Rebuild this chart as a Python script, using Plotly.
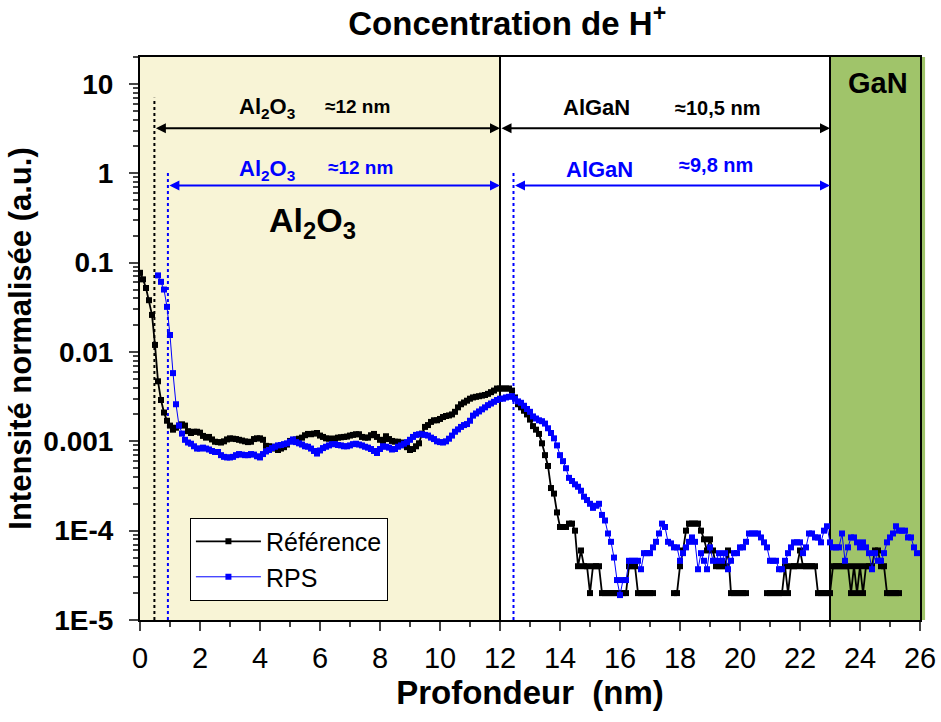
import plotly.graph_objects as go
import math

# ---------------- data ----------------
ref_start = 0.0
rps_start = 0.6
step = 0.1

reference = [
    0.077, 0.065, 0.052, 0.038, 0.026, 0.012, 0.0047, 0.0029, 0.0021, 0.0017,
    0.0015, 0.00135, 0.00142, 0.0015, 0.00155, 0.0015, 0.0013, 0.00124, 0.00128, 0.00128,
    0.00125, 0.00115, 0.0011, 0.00112, 0.00105, 0.00099, 0.00098, 0.00097, 0.001, 0.00105,
    0.00108, 0.00107, 0.00106, 0.00104, 0.00102, 0.001, 0.00098, 0.00099, 0.00106, 0.00108,
    0.00108, 0.00104, 0.00089, 0.00088, 0.00087, 0.00083, 0.0008, 0.00083, 0.00086, 0.00092,
    0.00101, 0.00103, 0.00105, 0.00107, 0.0011, 0.00117, 0.00121, 0.0012, 0.00122, 0.00124,
    0.00116, 0.00112, 0.00108, 0.00107, 0.00107, 0.00107, 0.0011, 0.00111, 0.00112, 0.00113,
    0.00116, 0.00118, 0.0012, 0.0012, 0.00112, 0.0011, 0.0011, 0.00117, 0.00121, 0.00112,
    0.00104, 0.00101, 0.00114, 0.00106, 0.00101, 0.00099, 0.00099, 0.00097, 0.00092, 0.00086,
    0.0008, 0.00082, 0.00088, 0.00095, 0.00122, 0.00145, 0.00152, 0.00165, 0.00172, 0.00172,
    0.00178, 0.00187, 0.00192, 0.00195, 0.002, 0.00214, 0.0024, 0.0026, 0.00272, 0.00285,
    0.003, 0.0031, 0.00315, 0.0032, 0.00325, 0.0033, 0.0034, 0.00355, 0.0037, 0.0039,
    0.0039, 0.0039, 0.0039, 0.0039, 0.0037, 0.0031, 0.0026, 0.0024, 0.0022, 0.002,
    0.00175, 0.00148, 0.00135, 0.00121, 0.00095, 0.0007, 0.00053, 0.0003, 0.00026, 0.00016,
    0.00011, 0.00011, 0.00011, 0.00012, 0.00012, 0.0001, 4e-05, 6e-05, 4e-05, 4e-05,
    2e-05, 4e-05, 4e-05, 4e-05, 2e-05, 2e-05, 2e-05, 2e-05, 2e-05, 2e-05,
    2e-05, 2e-05, 2e-05, 4e-05, 4e-05, 4e-05, 2e-05, 2e-05, 2e-05, 2e-05,
    2e-05, 2e-05, None, None, None, None, None, None, 2e-05, 2e-05,
    4e-05, 6e-05, 0.0001, 0.00012, 0.00012, 0.00012, 0.00012, 0.0001, 8e-05, 6e-05,
    8e-05, 6e-05, 4e-05, 4e-05, 4e-05, 4e-05, 6e-05, 2e-05, 2e-05, 2e-05,
    2e-05, 2e-05, 2e-05, None, None, None, None, None, None, 2e-05,
    2e-05, 2e-05, 2e-05, 2e-05, 2e-05, 4e-05, 2e-05, 4e-05, 4e-05, 4e-05,
    6e-05, 4e-05, 4e-05, 4e-05, 4e-05, 4e-05, 2e-05, 2e-05, 2e-05, 2e-05,
    2e-05, 4e-05, 4e-05, 4e-05, 4e-05, 4e-05, 4e-05, 2e-05, 4e-05, 2e-05,
    4e-05, 2e-05, 4e-05, 4e-05, 4e-05, 6e-05, 6e-05, 4e-05, 4e-05, 2e-05,
    2e-05, 2e-05, 2e-05, 2e-05,
]

rps = [
    0.072, 0.061, 0.05, 0.032, 0.0155, 0.0058, 0.0026, 0.0015, 0.00122, 0.00104,
    0.00097, 0.00094, 0.00088, 0.00083, 0.00083, 0.00085, 0.00083, 0.00081, 0.00078, 0.00076,
    0.00076, 0.0007, 0.00067, 0.00066, 0.00066, 0.00067, 0.0007, 0.00072, 0.00071, 0.0007,
    0.0007, 0.00072, 0.00071, 0.00068, 0.00066, 0.00072, 0.00077, 0.0008, 0.00084, 0.00087,
    0.0009, 0.00091, 0.00093, 0.00095, 0.00099, 0.00105, 0.00098, 0.00095, 0.00092, 0.00088,
    0.00087, 0.00083, 0.00078, 0.00073, 0.00079, 0.00084, 0.00087, 0.0009, 0.00093, 0.00093,
    0.00091, 0.0009, 0.00088, 0.00088, 0.0009, 0.00093, 0.00094, 0.00092, 0.0009, 0.00087,
    0.00085, 0.00082, 0.00078, 0.00074, 0.00082, 0.00088, 0.00087, 0.00085, 0.00081, 0.00082,
    0.00087, 0.0009, 0.00094, 0.00098, 0.00104, 0.00112, 0.00118, 0.0012, 0.0012, 0.00118,
    0.00116, 0.0011, 0.00106, 0.001, 0.00098, 0.00097, 0.001, 0.00107, 0.00116, 0.00128,
    0.00136, 0.00145, 0.00152, 0.00156, 0.0017, 0.00194, 0.00205, 0.00216, 0.00228, 0.0024,
    0.00254, 0.00265, 0.00277, 0.0029, 0.003, 0.003, 0.0031, 0.00315, 0.0032, 0.003,
    0.0028, 0.0027, 0.0025, 0.0023, 0.00214, 0.0019, 0.0018, 0.00172, 0.00168, 0.00158,
    0.0014, 0.00124, 0.00108, 0.0009, 0.0007, 0.0006, 0.0005, 0.00039, 0.00036, 0.00033,
    0.00031, 0.00028, 0.00024, 0.00022, 0.0002, 0.00018, 0.00019, 0.0002, 0.00015, 0.00013,
    9.3e-05, 7.5e-05, 5e-05, 2.8e-05, 1.9e-05, 2.8e-05, 2.8e-05, 4.6e-05, 4.6e-05, 4.6e-05,
    4.6e-05, 3.7e-05, 5.6e-05, 5.6e-05, 5.6e-05, 6.5e-05, 7.5e-05, 9.3e-05, 0.00012, 0.00011,
    7.5e-05, 7.2e-05, 6.5e-05, 6.5e-05, 4.6e-05, 5.6e-05, 6.5e-05, 7.5e-05, 8.4e-05, 7.5e-05,
    3.7e-05, 5.6e-05, 4.6e-05, 3.7e-05, 6.5e-05, 4.6e-05, 4.6e-05, 5.6e-05, 4.6e-05, 5.6e-05,
    3.7e-05, 4.6e-05, 5.6e-05, 5.6e-05, 6.5e-05, 6.5e-05, 7.5e-05, 9.3e-05, 9.3e-05, 9.3e-05,
    9.3e-05, 8.4e-05, 7.4e-05, 6.5e-05, 4.6e-05, 4.6e-05, 4.6e-05, 3.7e-05, 3.7e-05, 4.6e-05,
    5.6e-05, 6.5e-05, 7.4e-05, 7.4e-05, 7.4e-05, 5.6e-05, 6.5e-05, 9.3e-05, 9.3e-05, 8.4e-05,
    8.4e-05, 7.4e-05, 0.0001, 0.000112, 7.4e-05, 6.5e-05, 6.5e-05, 6.5e-05, 9.3e-05, 4.6e-05,
    6.5e-05, 8.4e-05, 8.4e-05, 7.4e-05, 6.5e-05, 7.4e-05, 6.5e-05, 5.6e-05, 3.7e-05, 5.6e-05,
    4.6e-05, 4.6e-05, 5.6e-05, 7.4e-05, 8.4e-05, 9.3e-05, 0.000112, 0.0001, 0.0001, 0.0001,
    8.4e-05, 8.4e-05, 6.5e-05, 5.6e-05,
]

depth_ref = [round(ref_start + step * i, 2) for i in range(len(reference))]
depth_rps = [round(rps_start + step * i, 2) for i in range(len(rps))]

x_ticks = list(range(0, 27, 2))
y_tickvals = [10, 1, 0.1, 0.01, 0.001, 1e-4, 1e-5]
y_ticktext = ["10", "1", "0.1", "0.01", "0.001", "1E-4", "1E-5"]

# layer boundaries (nm)
al2o3_end = 12
algan_end = 23
ref_surface = 0.48
rps_surface = 0.93
rps_interface = 12.45

FONT = "Arial, 'Liberation Sans', sans-serif"
BLUE = "#0000FF"

fig = go.Figure()

# dotted surface / interface markers
fig.add_trace(go.Scatter(x=[ref_surface, ref_surface], y=[1e-5, 7], mode="lines",
                         line=dict(color="black", width=2, dash="dot"),
                         showlegend=False, hoverinfo="skip"))
fig.add_trace(go.Scatter(x=[rps_surface, rps_surface], y=[1e-5, 1.05], mode="lines",
                         line=dict(color=BLUE, width=2, dash="dot"),
                         showlegend=False, hoverinfo="skip"))
fig.add_trace(go.Scatter(x=[rps_interface, rps_interface], y=[1e-5, 1.08], mode="lines",
                         line=dict(color=BLUE, width=2, dash="dot"),
                         showlegend=False, hoverinfo="skip"))

fig.add_trace(go.Scatter(x=depth_ref, y=reference, mode="lines+markers", name="Référence",
                         line=dict(color="black", width=1.8),
                         marker=dict(symbol="square", size=6, color="black"),
                         connectgaps=False))
fig.add_trace(go.Scatter(x=depth_rps, y=rps, mode="lines+markers", name="RPS",
                         line=dict(color=BLUE, width=1),
                         marker=dict(symbol="square", size=6, color=BLUE),
                         connectgaps=False))

shapes = [
    dict(type="rect", xref="x", yref="paper", x0=0, x1=al2o3_end, y0=0, y1=1,
         fillcolor="#F8F4D6", line=dict(width=0), layer="below"),
    dict(type="rect", xref="paper", yref="paper", x0=algan_end / 26, x1=1.0065, y0=0, y1=1,
         fillcolor="#A0C46A", line=dict(width=0), layer="below"),
    dict(type="line", xref="x", yref="paper", x0=al2o3_end, x1=al2o3_end, y0=0, y1=1,
         line=dict(color="black", width=2), layer="below"),
    dict(type="line", xref="x", yref="paper", x0=algan_end, x1=algan_end, y0=0, y1=1,
         line=dict(color="black", width=2), layer="below"),
]


def arrow(x0, x1, yv, color):
    ly = math.log10(yv)
    return dict(x=x1, y=ly, ax=x0, ay=ly, xref="x", yref="y", axref="x", ayref="y",
                text="", showarrow=True, arrowhead=2, startarrowhead=2, arrowside="end+start",
                arrowsize=1, arrowwidth=2, arrowcolor=color, standoff=0, startstandoff=0)


def label(x, yv, text, size, color="black"):
    return dict(x=x, y=math.log10(yv), xref="x", yref="y", text=text, showarrow=False,
                font=dict(family=FONT, size=size, color=color), xanchor="center", yanchor="middle")


annotations = [
    arrow(ref_surface, al2o3_end, 3.2, "black"),
    arrow(al2o3_end, algan_end, 3.2, "black"),
    arrow(rps_surface, al2o3_end, 0.73, BLUE),
    arrow(rps_interface, algan_end, 0.73, BLUE),
    label(4.23, 5.4, "<b>Al<sub>2</sub>O<sub>3</sub></b>", 22),
    label(7.25, 5.6, "<b>≈12 nm</b>", 19),
    label(4.23, 1.1, "<b>Al<sub>2</sub>O<sub>3</sub></b>", 22, BLUE),
    label(7.35, 1.15, "<b>≈12 nm</b>", 19, BLUE),
    label(5.75, 0.28, "<b>Al<sub>2</sub>O<sub>3</sub></b>", 34),
    label(15.22, 5.4, "<b>AlGaN</b>", 22),
    label(19.25, 5.4, "<b>≈10,5 nm</b>", 20),
    label(15.3, 1.1, "<b>AlGaN</b>", 22, BLUE),
    label(19.2, 1.25, "<b>≈9,8 nm</b>", 20, BLUE),
    label(24.6, 10.3, "<b>GaN</b>", 29),
]

fig.update_layout(
    width=941, height=722,
    margin=dict(l=140, r=21, t=57, b=102, autoexpand=False),
    paper_bgcolor="white", plot_bgcolor="rgba(0,0,0,0)",
    font=dict(family=FONT, color="black"),
    title=dict(text="<b>Concentration de H<sup>+</sup></b>", x=0.539, xanchor="center",
               y=0.968, yanchor="middle", font=dict(family=FONT, size=33, color="black")),
    shapes=shapes, annotations=annotations,
    legend=dict(x=0.064, y=0.182, xanchor="left", yanchor="top", bgcolor="white",
                bordercolor="black", borderwidth=1, font=dict(family=FONT, size=25),
                tracegroupgap=0, itemwidth=65),
    showlegend=True,
)

fig.update_xaxes(range=[0, 26], tickvals=x_ticks, ticks="outside", ticklen=9, tickwidth=2,
                 showline=True, linewidth=2, linecolor="black", mirror=True, showgrid=False,
                 zeroline=False, tickfont=dict(family=FONT, size=29), automargin=False,
                 tickprefix="<b>", ticksuffix="</b>", ticklabelstandoff=2,
                 minor=dict(ticks="outside", ticklen=5, tickwidth=2, dtick=1, showgrid=False),
                 title=dict(text="<b>Profondeur\u00a0 (nm)</b>", font=dict(family=FONT, size=33),
                            standoff=2))
fig.update_yaxes(type="log", range=[-5, 1.302], tickvals=y_tickvals, ticktext=["<b>%s</b>" % t for t in y_ticktext],
                 ticks="outside", ticklen=9, tickwidth=2, automargin=False, ticklabelstandoff=10,
                 showline=True, linewidth=2, linecolor="black", mirror=True, showgrid=False,
                 zeroline=False, tickfont=dict(family=FONT, size=28),
                 minor=dict(ticks="outside", ticklen=5, tickwidth=1.5, dtick="D1", showgrid=False),
                 title=dict(text="<b>Intensité normalisée (a.u.)</b>", font=dict(family=FONT, size=31),
                            standoff=2))

fig.write_html("out.html", post_script="document.body.style.margin='0';",
               config={"displayModeBar": False})
